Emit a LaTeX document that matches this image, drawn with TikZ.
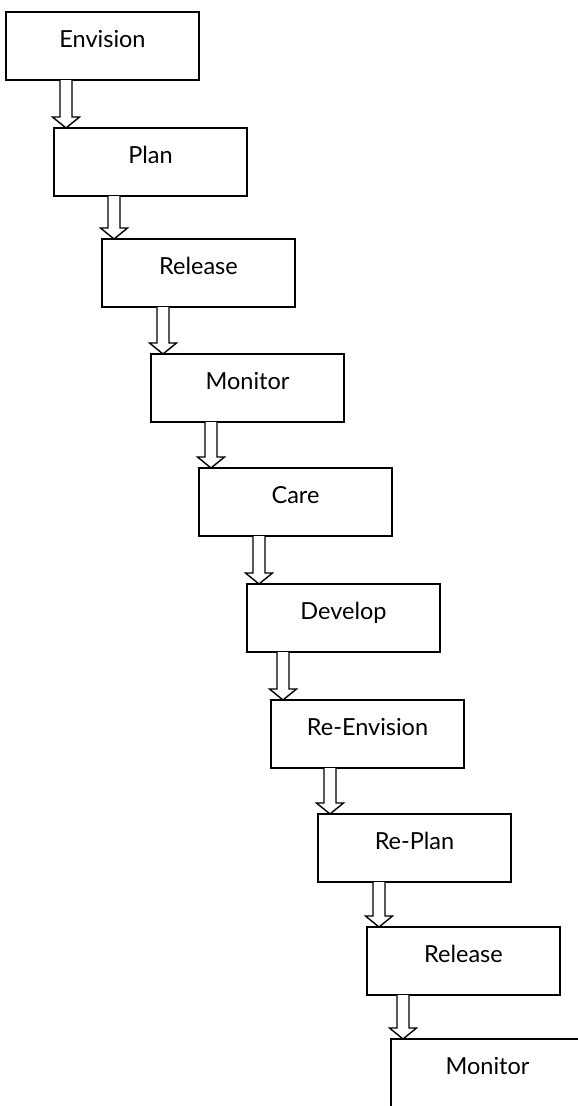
\documentclass[tikz,border=0pt]{standalone}
\usepackage{fontspec}
\setmainfont{Lato}
\usetikzlibrary{calc}
\tikzset{
  stagebox/.style={draw=black, line width=1.6pt, fill=white, anchor=north west,
    minimum width=193pt, minimum height=68pt, inner sep=0pt, outer sep=0pt,
    text height=10pt, text depth=7pt, font=\fontsize{23.5}{26}\selectfont},
  barrow/.style={draw=black, line width=1.4pt, fill=white, line join=miter}
}
\newcommand\blockarrow[2]{%
  \draw[barrow] let \p1=($(#2.north west)+(12pt,0)$), \p2=(#1.south) in
    (\x1-6pt,\y2) -- (\x1-6pt,\y1+11pt) -- (\x1-13.5pt,\y1+11pt) -- (\x1,\y1)
    -- (\x1+13.5pt,\y1+11pt) -- (\x1+6pt,\y1+11pt) -- (\x1+6pt,\y2);}
\begin{document}
\begin{tikzpicture}[x=1pt,y=1pt]
\useasboundingbox (0,0) rectangle (578,-1106);
\clip (0,0) rectangle (578,-1106);
\node[stagebox] (b1) at (6,-12) {Envision};
\node[stagebox] (b2) at (54,-128) {Plan};
\node[stagebox] (b3) at (102,-239) {Release};
\node[stagebox] (b4) at (151,-354) {Monitor};
\node[stagebox] (b5) at (199,-468) {Care};
\node[stagebox] (b6) at (247,-584) {Develop};
\node[stagebox] (b7) at (271,-700) {Re-Envision};
\node[stagebox] (b8) at (318,-814) {Re-Plan};
\node[stagebox] (b9) at (367,-927) {Release};
\node[stagebox] (b10) at (391,-1039) {Monitor};
\blockarrow{b1}{b2}
\blockarrow{b2}{b3}
\blockarrow{b3}{b4}
\blockarrow{b4}{b5}
\blockarrow{b5}{b6}
\blockarrow{b6}{b7}
\blockarrow{b7}{b8}
\blockarrow{b8}{b9}
\blockarrow{b9}{b10}
\end{tikzpicture}
\end{document}
